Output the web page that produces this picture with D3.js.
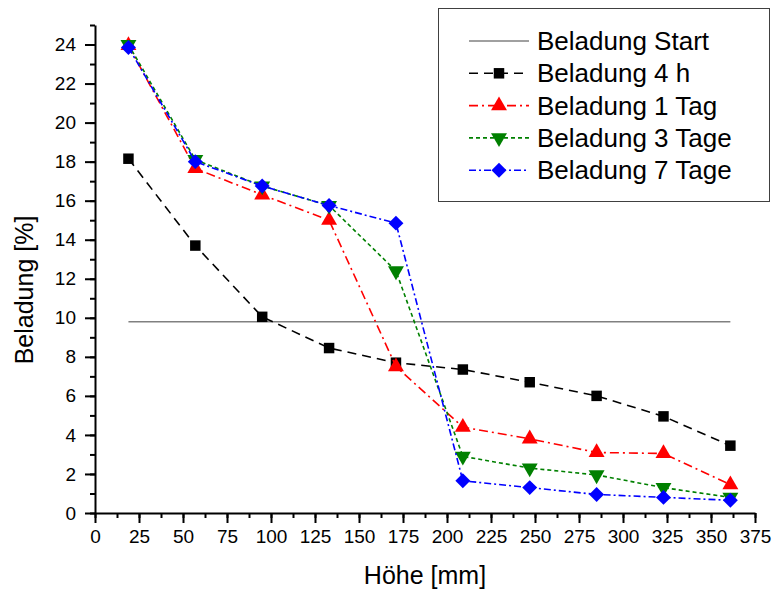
<!DOCTYPE html>
<html>
<head>
<meta charset="utf-8">
<script src="https://cdn.jsdelivr.net/npm/d3@7"></script>
<style>
  body { margin: 0; background: #fff; }
  svg { font-family: "Liberation Sans", Arial, sans-serif; }
</style>
</head>
<body>
<div id="chart"></div>
<script>
// Beladung über der Höhe
var hoehe = [19, 57, 95, 133, 171, 209, 247, 285, 323, 361];
var startWert = 9.8;
var bel4h = [18.15, 13.7, 10.05, 8.45, 7.7, 7.35, 6.7, 6.0, 4.95, 3.45];
var bel1Tag = [23.95, 17.65, 16.3, 15.0, 7.5, 4.4, 3.8, 3.1, 3.05, 1.45];
var bel3Tage = [24.0, 18.1, 16.75, 15.75, 12.4, 2.9, 2.3, 1.95, 1.3, 0.8];
var bel7Tage = [23.85, 18.0, 16.75, 15.75, 14.85, 1.65, 1.3, 0.95, 0.8, 0.65];
var xTicks = [0, 25, 50, 75, 100, 125, 150, 175, 200, 225, 250, 275, 300, 325, 350, 375];
var yTicks = [0, 2, 4, 6, 8, 10, 12, 14, 16, 18, 20, 22, 24];

var width = 773, height = 594;
var margin = { top: 25, right: 18, bottom: 81, left: 95 };

var svg = d3.select("#chart").append("svg")
    .attr("width", width)
    .attr("height", height);

var x = d3.scaleLinear().domain([0, 375]).range([margin.left, width - margin.right]);
var y = d3.scaleLinear().domain([0, 25]).range([height - margin.bottom, margin.top]);

// minor ticks first
svg.append("g")
    .attr("transform", "translate(0," + y(0) + ")")
    .call(d3.axisBottom(x).tickValues(d3.range(0, 376, 12.5)).tickSize(5).tickSizeOuter(0).tickFormat(""))
    .call(function (g) { g.select(".domain").remove(); g.selectAll("line").attr("stroke-width", 2); });
svg.append("g")
    .attr("transform", "translate(" + x(0) + ",0)")
    .call(d3.axisLeft(y).tickValues(d3.range(0, 26, 1)).tickSize(5).tickSizeOuter(0).tickFormat(""))
    .call(function (g) { g.select(".domain").remove(); g.selectAll("line").attr("stroke-width", 2); });

var xAxis = svg.append("g")
    .attr("transform", "translate(0," + y(0) + ")")
    .call(d3.axisBottom(x).tickValues(xTicks).tickSize(10).tickSizeOuter(0).tickPadding(7));
var yAxis = svg.append("g")
    .attr("transform", "translate(" + x(0) + ",0)")
    .call(d3.axisLeft(y).tickValues(yTicks).tickSize(10).tickSizeOuter(0).tickPadding(9));

[xAxis, yAxis].forEach(function (g) {
    g.select(".domain").attr("stroke-width", 2);
    g.selectAll("line").attr("stroke-width", 2);
    g.selectAll("text").attr("font-size", "19px").attr("fill", "#000")
        .style("font-family", "'Liberation Sans', Arial, sans-serif");
});

svg.append("text")
    .attr("x", x(187.5))
    .attr("y", 584)
    .attr("text-anchor", "middle")
    .attr("font-size", "25px")
    .text("Höhe [mm]");

svg.append("text")
    .attr("transform", "translate(33,290) rotate(-90)")
    .attr("text-anchor", "middle")
    .attr("font-size", "25px")
    .text("Beladung [%]");

// Startlinie
svg.append("line")
    .attr("x1", x(hoehe[0])).attr("x2", x(hoehe[hoehe.length - 1]))
    .attr("y1", y(startWert)).attr("y2", y(startWert))
    .attr("stroke", "#808080").attr("stroke-width", 1.6);

var serien = [
    { name: "Beladung 4 h", werte: bel4h, color: "#000000", dash: "9,6", symbol: d3.symbolSquare, size: 110, rot: 0 },
    { name: "Beladung 1 Tag", werte: bel1Tag, color: "#ff0000", dash: "9,4,2,4", symbol: d3.symbolTriangle, size: 110, rot: 0 },
    { name: "Beladung 3 Tage", werte: bel3Tage, color: "#008000", dash: "4,3", symbol: d3.symbolTriangle, size: 110, rot: 180 },
    { name: "Beladung 7 Tage", werte: bel7Tage, color: "#0000ff", dash: "7,3,2,3", symbol: d3.symbolSquare, size: 112, rot: 45 }
];

var line = d3.line()
    .x(function (d, i) { return x(hoehe[i]); })
    .y(function (d) { return y(d); });

serien.forEach(function (s) {
    var g = svg.append("g");
    g.append("path")
        .datum(s.werte)
        .attr("d", line)
        .attr("fill", "none")
        .attr("stroke", s.color)
        .attr("stroke-width", 1.6)
        .attr("stroke-dasharray", s.dash);
    g.selectAll("path.pt")
        .data(s.werte)
        .enter().append("path")
        .attr("class", "pt")
        .attr("d", d3.symbol().type(s.symbol).size(s.size))
        .attr("transform", function (d, i) {
            return "translate(" + x(hoehe[i]) + "," + y(d) + ") rotate(" + s.rot + ")";
        })
        .attr("fill", s.color);
});

// Legende
var leg = svg.append("g");
leg.append("rect")
    .attr("x", 438.5).attr("y", 8.5)
    .attr("width", 331).attr("height", 193)
    .attr("fill", "#fff")
    .attr("stroke", "#404040").attr("stroke-width", 1);

var legItems = [{ name: "Beladung Start", color: "#808080", dash: null, symbol: null }].concat(serien);
legItems.forEach(function (s, i) {
    var ly = 41 + i * 32.3;
    leg.append("line")
        .attr("x1", 469).attr("x2", 529)
        .attr("y1", ly).attr("y2", ly)
        .attr("stroke", s.color)
        .attr("stroke-width", 1.6)
        .attr("stroke-dasharray", s.dash);
    if (s.symbol) {
        leg.append("path")
            .attr("d", d3.symbol().type(s.symbol).size(s.size))
            .attr("transform", "translate(499," + ly + ") rotate(" + s.rot + ")")
            .attr("fill", s.color);
    }
    leg.append("text")
        .attr("x", 537).attr("y", ly)
        .attr("dy", "0.35em")
        .attr("font-size", "26px")
        .text(s.name);
});
</script>
</body>
</html>
